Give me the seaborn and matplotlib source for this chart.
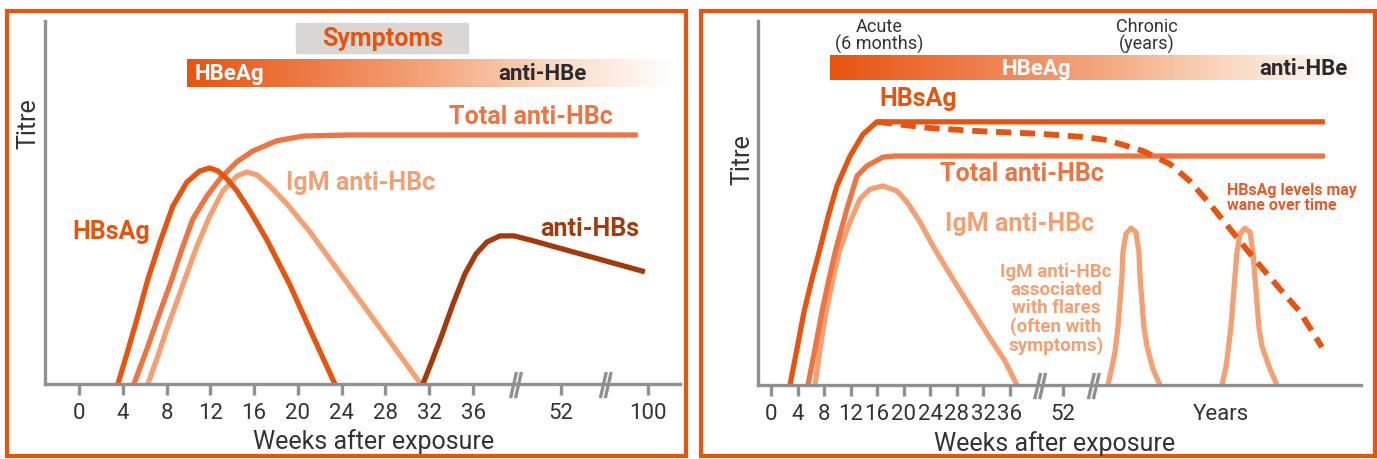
import numpy as np
import seaborn as sns
import matplotlib
matplotlib.use("Agg")
import matplotlib.pyplot as plt
from matplotlib.patches import Rectangle
from matplotlib.colors import LinearSegmentedColormap

# colours
c_hbsag = "#E8540E"
c_total = "#EE7441"
c_igm = "#F4A072"
c_antihbs = "#A43A0B"
c_axis = "#909090"
c_text = "#333333"

# ---- acute panel (x = position on broken week axis, y = titre 0-100)
acute_ticks = [0, 4, 8, 12, 16, 20, 24, 28, 32, 36, 44, 52]
acute_tick_labels = ["0", "4", "8", "12", "16", "20", "24", "28", "32", "36", "52", "100"]

acute_hbsag_x = [3.56, 4.38, 5.30, 6.30, 7.40, 8.58, 9.86, 11.05, 11.96, 12.69, 13.52, 14.43, 15.62, 17.17, 19.27, 21.28, 23.38]
acute_hbsag_y = [0, 8.3, 17.9, 28.9, 39.1, 49.0, 55.6, 58.7, 59.5, 58.7, 56.5, 53.2, 47.7, 39.7, 27.3, 13.8, 0]

acute_total_x = [5.02, 6.21, 7.40, 8.49, 9.41, 10.41, 11.69, 12.88, 14.43, 15.89, 18.08, 20.46, 24.75, 51.05]
acute_total_y = [0, 9.6, 19.8, 28.9, 37.2, 45.5, 51.8, 56.5, 61.2, 64.2, 67.0, 68.3, 68.6, 68.6]

acute_igm_x = [6.30, 7.21, 8.04, 8.86, 9.68, 10.78, 11.96, 13.15, 14.43, 15.34, 16.26, 17.44, 19.00, 21.10, 31.23]
acute_igm_y = [0, 7.7, 15.2, 22.0, 28.9, 38.0, 46.3, 53.2, 57.3, 58.4, 57.6, 54.5, 49.6, 41.9, 0]

acute_antihbs_x = [31.42, 32.24, 33.15, 34.16, 35.25, 36.26, 37.26, 38.45, 39.73, 41.19, 51.69]
acute_antihbs_y = [0, 6.3, 13.5, 22.0, 30.3, 35.8, 39.1, 40.8, 40.8, 39.7, 30.9]

# ---- chronic panel
chronic_ticks = [0, 4, 8, 12, 16, 20, 24, 28, 32, 36, 44]
chronic_tick_labels = ["0", "4", "8", "12", "16", "20", "24", "28", "32", "36", "52"]

chronic_hbsag_x = [2.87, 3.92, 4.98, 6.18, 7.39, 8.60, 9.95, 11.92, 13.88, 15.99, 83.56]
chronic_hbsag_y = [0, 9.9, 20.1, 29.1, 37.4, 46.2, 54.7, 62.9, 68.9, 72.3, 72.3]

chronic_wane_x = [15.99, 23.98, 30.77, 40.72, 47.36, 50.68, 56.11, 60.18, 63.20, 66.21, 69.23, 73.15, 76.77, 79.79, 83.11]
chronic_wane_y = [72.3, 70.6, 69.8, 69.0, 68.1, 67.3, 64.3, 60.7, 56.0, 49.7, 42.9, 34.1, 26.4, 20.1, 10.4]

chronic_total_x = [5.58, 6.64, 7.69, 8.75, 9.80, 11.46, 12.97, 14.48, 16.89, 18.70, 83.56]
chronic_total_y = [0, 9.9, 20.1, 29.1, 37.4, 48.4, 57.4, 60.2, 62.6, 62.9, 62.9]

chronic_igm_x = [6.64, 7.39, 8.30, 9.35, 10.41, 11.92, 13.42, 14.93, 16.89, 19.00, 20.51, 22.47, 24.43, 27.45, 32.73, 35.29, 37.10]
chronic_igm_y = [0, 9.9, 20.1, 29.1, 37.4, 44.8, 51.1, 53.8, 54.7, 53.3, 50.3, 44.8, 38.2, 29.1, 13.7, 6.6, 0]

flare1_x = [50.83, 51.43, 51.89, 52.34, 52.64, 52.94, 53.09, 53.54, 54.30, 55.05, 55.50, 55.66, 55.96, 56.26, 56.71, 57.62, 58.67]
flare2_x = [68.02, 68.63, 68.93, 69.38, 69.68, 69.98, 70.29, 70.74, 71.49, 72.25, 72.70, 73.00, 73.30, 73.60, 74.06, 75.26, 76.32]
flare_y = [0, 4.9, 9.1, 15.9, 22.8, 29.7, 36.5, 41.5, 43.1, 42.0, 36.5, 29.7, 22.8, 15.9, 10.7, 4.4, 0]


sns.set_theme(style="white")
plt.rcParams["font.family"] = ["Roboto", "DejaVu Sans"]
plt.rcParams["lines.solid_capstyle"] = "butt"
plt.rcParams["lines.dash_capstyle"] = "butt"
plt.rcParams["lines.solid_joinstyle"] = "round"

W, H = 1377, 460
fig = plt.figure(figsize=(W / 100, H / 100), dpi=100)
fig.patch.set_facecolor("white")

bar_cmap = LinearSegmentedColormap.from_list(
    "hbe", ["#E8540E", "#EE7A46", "#F4A57C", "#FAD9C2", "#FFFFFF"])


def frac_box(x0, y0, x1, y1):
    # pixel box (top-down) -> figure fraction
    return [x0 / W, 1 - y1 / H, (x1 - x0) / W, (y1 - y0) / H]


def draw_curve(ax, xs, ys, color, lw=3.8):
    sns.lineplot(x=xs, y=ys, ax=ax, color=color, lw=lw, sort=False,
                 estimator=None, clip_on=False)
    return ax.lines[-1]


def setup_axis(ax, xlim, ticks, labels):
    ax.set_xlim(*xlim)
    ax.set_ylim(0, 100)
    ax.set_facecolor("none")
    for side in ["top", "right"]:
        ax.spines[side].set_visible(False)
    for side in ["left", "bottom"]:
        ax.spines[side].set_color(c_axis)
        ax.spines[side].set_linewidth(2.4)
    ax.set_yticks([])
    ax.set_xticks(ticks)
    ax.set_xticklabels(labels)
    ax.tick_params(axis="x", direction="out", length=8, width=2.4,
                   color=c_axis, labelcolor=c_text, labelsize=16, pad=5)
    ax.tick_params(axis="x", bottom=True)


def break_mark(ax, xc, dx, top, bot):
    for off in (-0.5, 0.5):
        ax.plot([xc + off * dx - dx, xc + off * dx + dx * 0.2], [bot, top],
                color=c_axis, lw=2.4, clip_on=False, solid_capstyle="butt")


def gradient_bar(ax, x0, x1, y0, y1):
    grad = np.linspace(0, 1, 256).reshape(1, -1)
    ax.imshow(grad, cmap=bar_cmap, extent=[x0, x1, y0, y1], aspect="auto",
              zorder=1)


# ---------------- left panel: acute infection
ax1 = fig.add_axes(frac_box(45, 22, 680, 385))
setup_axis(ax1, (-3.1, 54.9), acute_ticks, acute_tick_labels)

ax1.add_patch(Rectangle((19.8, 91.2), 15.7, 8.2, color="#D9D6D3", zorder=1))
ax1.text(27.7, 95.3, "Symptoms", color=c_hbsag, fontsize=18, fontweight="bold",
         ha="center", va="center")
gradient_bar(ax1, 9.86, 54.3, 81.8, 89.5)
ax1.text(10.6, 85.7, "HBeAg", color="white", fontsize=16, fontweight="bold",
         va="center")
ax1.text(38.3, 85.7, "anti-HBe", color="#2B2B2B", fontsize=16,
         fontweight="bold", va="center")

draw_curve(ax1, acute_total_x, acute_total_y, c_total)
draw_curve(ax1, acute_igm_x, acute_igm_y, c_igm)
draw_curve(ax1, acute_hbsag_x, acute_hbsag_y, c_hbsag)
draw_curve(ax1, acute_antihbs_x, acute_antihbs_y, c_antihbs)

ax1.text(33.8, 73.8, "Total anti-HBc", color=c_total, fontsize=18,
         fontweight="bold", va="center")
ax1.text(18.9, 55.6, "IgM anti-HBc", color=c_igm, fontsize=18,
         fontweight="bold", va="center")
ax1.text(-0.64, 42.1, "HBsAg", color=c_hbsag, fontsize=18,
         fontweight="bold", va="center")
ax1.text(42.1, 43.0, "anti-HBs", color=c_antihbs, fontsize=18,
         fontweight="bold", va="center")

break_mark(ax1, 40.1, 0.45, 3.3, -3.9)
break_mark(ax1, 48.3, 0.45, 3.3, -3.9)
ax1.set_xlim(-3.1, 54.9)
ax1.set_ylim(0, 100)

fig.text(374 / W, 1 - 442 / H, "Weeks after exposure", color=c_text,
         fontsize=18, ha="center", va="center")
fig.text(28 / W, 1 - 124 / H, "Titre", color=c_text, fontsize=18,
         rotation=90, ha="center", va="center")

# ---------------- right panel: chronic infection
ax2 = fig.add_axes(frac_box(758, 22, 1361, 386))
setup_axis(ax2, (-1.96, 89.0), chronic_ticks, chronic_tick_labels)

ax2.text(16.3, 96.2, "Acute\n(6 months)", color=c_text, fontsize=13,
         ha="center", va="center", linespacing=0.95)
ax2.text(56.7, 96.2, "Chronic\n(years)", color=c_text, fontsize=13,
         ha="center", va="center", linespacing=0.95)
gradient_bar(ax2, 8.9, 89.0, 83.8, 90.4)
ax2.text(40.0, 87.1, "HBeAg", color="white", fontsize=16, fontweight="bold",
         ha="center", va="center")
ax2.text(87.0, 87.1, "anti-HBe", color="#2B2B2B", fontsize=16,
         fontweight="bold", ha="right", va="center")

draw_curve(ax2, chronic_igm_x, chronic_igm_y, c_igm)
draw_curve(ax2, flare1_x, flare_y, c_igm)
draw_curve(ax2, flare2_x, flare_y, c_igm)
draw_curve(ax2, chronic_total_x, chronic_total_y, c_total)
wane = draw_curve(ax2, chronic_wane_x, chronic_wane_y, c_hbsag, lw=4.2)
wane.set_dashes([2.6, 1.5])
draw_curve(ax2, chronic_hbsag_x, chronic_hbsag_y, c_hbsag)

ax2.text(16.3, 78.8, "HBsAg", color=c_hbsag, fontsize=18, fontweight="bold",
         va="center")
ax2.text(25.5, 58.2, "Total anti-HBc", color=c_total, fontsize=18,
         fontweight="bold", va="center")
ax2.text(26.2, 44.5, "IgM anti-HBc", color=c_igm, fontsize=18,
         fontweight="bold", va="center")
ax2.text(43.0, 21.2, "IgM anti-HBc\nassociated\nwith flares\n(often with\nsymptoms)",
         color=c_igm, fontsize=13.5, fontweight="bold", ha="center",
         va="center", linespacing=1.0)
ax2.text(68.8, 51.6, "HBsAg levels may\nwane over time", color="#E85A2A",
         fontsize=11.5, fontweight="bold", va="center", linespacing=1.0)
ax2.text(67.9, -7.7, "Years", color=c_text, fontsize=16, ha="center",
         va="center", clip_on=False)

break_mark(ax2, 40.9, 0.75, 3.3, -3.9)
break_mark(ax2, 49.0, 0.75, 3.3, -3.9)
ax2.set_xlim(-1.96, 89.0)
ax2.set_ylim(0, 100)

fig.text(1055 / W, 1 - 444 / H, "Weeks after exposure", color=c_text,
         fontsize=18, ha="center", va="center")
fig.text(742 / W, 1 - 160 / H, "Titre", color=c_text, fontsize=18,
         rotation=90, ha="center", va="center")

# orange frames round both panels
for box in [(7, 12, 686, 457), (701, 12, 1375, 457)]:
    x0, y0, x1, y1 = box
    fig.add_artist(Rectangle((x0 / W, 1 - y1 / H), (x1 - x0) / W, (y1 - y0) / H,
                             transform=fig.transFigure, fill=False,
                             ec="#E8540E", lw=3))

fig.savefig("out.png", dpi=100)
